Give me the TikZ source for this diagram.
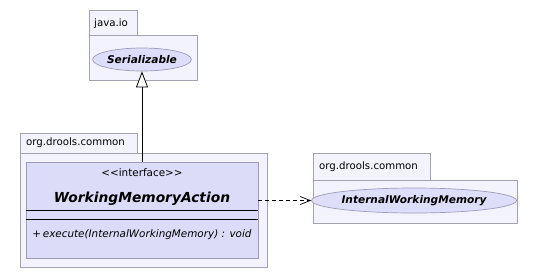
\documentclass[tikz,border=0pt]{standalone}
\usepackage{fontspec}
\setmainfont{DejaVu Sans}
\usetikzlibrary{arrows.meta,shapes.geometric}
\definecolor{pkgfill}{HTML}{F3F3FD}
\definecolor{pkgline}{HTML}{A3A3B0}
\definecolor{clsfill}{HTML}{DCDCF8}
\definecolor{clsline}{HTML}{9C9CB8}
\definecolor{ellfill}{HTML}{DEDEFA}
\begin{document}
\begin{tikzpicture}[x=1pt,y=-1pt,
  pkgtab/.style={draw=pkgline,fill=pkgfill,line width=0.8pt,anchor=north west,inner sep=0pt},
  pkgbody/.style={draw=pkgline,fill=pkgfill,line width=0.8pt,anchor=north west,inner sep=0pt},
  pkglabel/.style={inner sep=0pt,anchor=west,font=\fontsize{10.2}{12}\selectfont},
  iface/.style={draw=clsline,fill=ellfill,ellipse,line width=0.7pt,inner sep=0pt,
    font=\fontsize{10.6}{12}\selectfont\bfseries\itshape},
  clsbox/.style={draw=clsline,fill=clsfill,line width=0.8pt,anchor=north west,inner sep=0pt},
  txt/.style={inner sep=0pt}]
\useasboundingbox[fill=white] (0,0) rectangle (536,277);

% package java.io
\node[pkgtab,minimum width=48pt,minimum height=25pt] (tabio) at (89,10) {};
\node[pkglabel] (labio) at (94,24) {java.io};
\node[pkgbody,minimum width=108pt,minimum height=45pt] (bodyio) at (89,35) {};
\node[iface,minimum width=92pt,minimum height=23pt] (ser) at (142,59.5) {Serializable};

% package org.drools.common (left)
\node[pkgtab,minimum width=117pt,minimum height=20pt] (tabl) at (20,133) {};
\node[pkglabel] (labl) at (26,143) {org.drools.common};
\node[pkgbody,minimum width=247pt,minimum height=114pt] (bodyl) at (20,153) {};

% interface class box
\node[clsbox,minimum width=232pt,minimum height=96pt] (wma) at (26,162) {};
\node[txt,font=\fontsize{10.4}{12}\selectfont] (st) at (142,173) {<{}<interface>{}>};
\node[txt,font=\fontsize{13.8}{16}\selectfont\bfseries\itshape] (nm) at (142,199) {WorkingMemoryAction};
\draw[line width=0.8pt] (26,210) -- (258,210);
\draw[line width=0.8pt] (26,219) -- (258,219);
\node[txt,font=\fontsize{10.4}{12}\selectfont\itshape] (op) at (142,235) {+\,execute(InternalWorkingMemory) : void};

% package org.drools.common (right)
\node[pkgtab,minimum width=117pt,minimum height=27pt] (tabr) at (313,153) {};
\node[pkglabel] (labr) at (319,167) {org.drools.common};
\node[pkgbody,minimum width=204pt,minimum height=43pt] (bodyr) at (313,180) {};
\node[iface,minimum width=188pt,minimum height=25pt] (iwm) at (414,200.5) {InternalWorkingMemory};

% generalization
\coordinate (wmatop) at (142,162);
\draw[line width=0.8pt,-{Triangle[open,length=16pt,width=12pt,fill=white]}] (wmatop) -- (ser.south);

% dependency
\coordinate (wmaright) at (258,200.5);
\draw[line width=0.7pt,dashed,dash pattern=on 4pt off 3pt,-{Straight Barb[length=10pt,width=8pt]}] (wmaright) -- (iwm.west);
\end{tikzpicture}
\end{document}
